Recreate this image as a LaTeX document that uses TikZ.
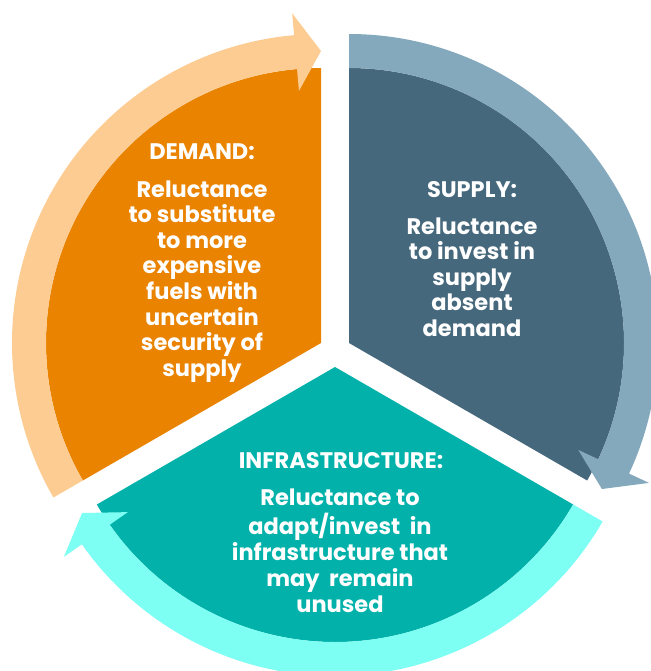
\documentclass[tikz,border=0pt]{standalone}
\usepackage{fontspec}
\setmainfont{Poppins}
\definecolor{cOrange}{RGB}{233,131,0}
\definecolor{cOrangeL}{RGB}{253,204,146}
\definecolor{cSlate}{RGB}{70,104,124}
\definecolor{cSlateL}{RGB}{132,168,188}
\definecolor{cTeal}{RGB}{2,178,170}
\definecolor{cCyan}{RGB}{125,255,244}
\newcommand\ringarrow[4]{%
  \fill[#1,shift={(#2)}] (#3:309) arc[start angle=#3,end angle={#4+5},radius=309]
    -- ({#4+5}:331) -- (#4:292) -- ({#4+5}:253) -- ({#4+5}:275)
    arc[start angle={#4+5},end angle=#3,radius=275] -- cycle;}
\tikzset{
  txt/.style={text=white,inner sep=0pt,anchor=base,
    font=\fontsize{22.5bp}{25.5bp}\selectfont\bfseries},
  txtwide/.style={txt,font=\fontsize{22.5bp}{26.2bp}\selectfont\bfseries}
}
\begin{document}
\begin{tikzpicture}[x=1bp,y=1bp]
\clip (0,0) rectangle (651,-671);
\fill[white] (0,0) rectangle (651,-671);
\coordinate (O1) at (321,-343);
\coordinate (O2) at (349,-343);
\coordinate (O3) at (335,-367);
% sectors
\fill[cOrange] (O1) -- ++(90:275) arc[start angle=90,end angle=210,radius=275] -- cycle;
\fill[cSlate] (O2) -- ++(-30:275) arc[start angle=-30,end angle=90,radius=275] -- cycle;
\fill[cTeal] (O3) -- ++(210:275) arc[start angle=210,end angle=330,radius=275] -- cycle;
% ring arrows
\ringarrow{cOrangeL}{O1}{210}{90}
\ringarrow{cSlateL}{O2}{90}{-30}
\ringarrow{cCyan}{O3}{330}{210}
% texts
\node[txt] (dh) at (202,-159) {DEMAND:};
\node[txt] (db) at (202,-197) {\begin{tabular}[t]{@{}c@{}}Reluctance\\to substitute\\to more\\expensive\\fuels with\\uncertain\\security of\\supply\end{tabular}};
\node[txt] (sh) at (472,-197) {SUPPLY:};
\node[txt] (sb) at (472,-234) {\begin{tabular}[t]{@{}c@{}}Reluctance\\to invest in\\supply\\absent\\demand\end{tabular}};
\node[txt] (ih) at (341,-468) {INFRASTRUCTURE:};
\node[txtwide] (ib) at (340,-505) {\begin{tabular}[t]{@{}c@{}}Reluctance to\\adapt/invest\ \ in\\infrastructure that\\may\ \ remain\\unused\end{tabular}};
\end{tikzpicture}
\end{document}
